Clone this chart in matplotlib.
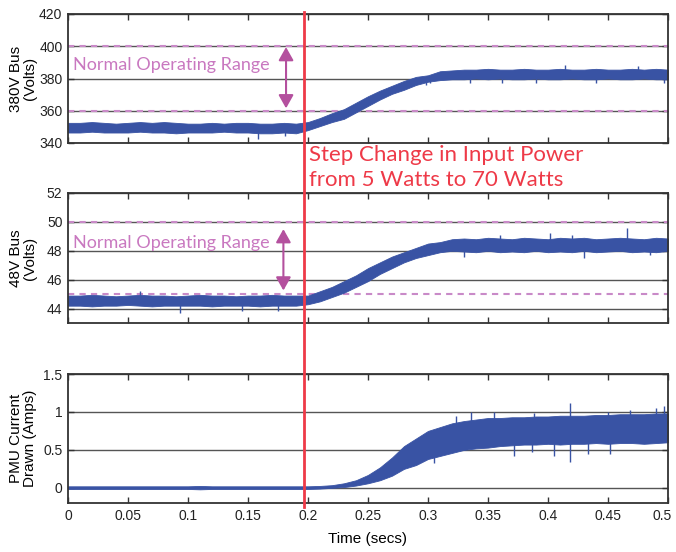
import numpy as np
import matplotlib
matplotlib.use("Agg")
import matplotlib.pyplot as plt
from matplotlib.lines import Line2D
from matplotlib import transforms

# ---------------- data ----------------
time = [0.00, 0.01, 0.02, 0.03, 0.04, 0.05, 0.06, 0.07, 0.08, 0.09,
        0.10, 0.11, 0.12, 0.13, 0.14, 0.15, 0.16, 0.17, 0.18, 0.19,
        0.20, 0.21, 0.22, 0.23, 0.24, 0.25, 0.26, 0.27, 0.28, 0.29,
        0.30, 0.31, 0.32, 0.33, 0.34, 0.35, 0.36, 0.37, 0.38, 0.39,
        0.40, 0.41, 0.42, 0.43, 0.44, 0.45, 0.46, 0.47, 0.48, 0.49, 0.50]

# 380V bus envelope (Volts)
bus380_low = [346.5, 346.5, 347.0, 346.5, 346.5, 346.5, 347.0, 346.5, 346.5, 346.0,
              346.5, 346.5, 346.5, 347.0, 346.5, 346.5, 346.0, 346.0, 346.5, 346.0,
              348.0, 350.5, 353.0, 355.0, 359.0, 363.0, 367.0, 370.5, 373.0, 376.0,
              378.0, 379.0, 379.5, 379.5, 380.0, 379.5, 380.0, 379.5, 379.5, 380.0,
              379.5, 379.5, 380.0, 379.5, 379.5, 380.0, 379.5, 379.5, 380.0, 379.5, 379.5]
bus380_high = [352.5, 352.5, 353.0, 352.5, 352.0, 352.5, 353.0, 352.5, 353.0, 352.5,
               352.0, 352.0, 352.5, 352.0, 352.5, 352.5, 352.0, 352.0, 352.5, 352.0,
               353.0, 355.5, 358.5, 361.0, 365.0, 369.0, 372.5, 375.5, 378.5, 381.0,
               382.0, 384.5, 385.0, 385.5, 385.5, 386.0, 385.5, 385.5, 386.0, 385.5,
               385.5, 386.0, 385.5, 385.5, 386.0, 385.5, 385.5, 386.0, 385.5, 386.0, 385.5]
bus380_spike_t = [0.158, 0.181, 0.298, 0.302, 0.335, 0.362, 0.39, 0.414, 0.44, 0.475, 0.497]
bus380_spike_v = [342.5, 344.5, 376.0, 377.0, 377.5, 377.5, 377.0, 388.4, 377.0, 388.0, 377.5]

# 48V bus envelope (Volts)
bus48_low = [44.2, 44.2, 44.15, 44.2, 44.2, 44.25, 44.2, 44.15, 44.2, 44.2,
             44.2, 44.2, 44.15, 44.2, 44.2, 44.2, 44.15, 44.2, 44.2, 44.2,
             44.3, 44.5, 44.8, 45.1, 45.5, 45.9, 46.4, 46.8, 47.2, 47.5,
             47.7, 47.9, 48.0, 47.95, 47.9, 48.0, 47.9, 47.95, 47.9, 48.0,
             47.9, 47.95, 47.9, 48.0, 47.9, 47.95, 48.0, 47.9, 47.95, 47.9, 48.0]
bus48_high = [44.9, 44.9, 44.95, 44.9, 44.85, 44.9, 44.95, 44.9, 44.9, 44.85,
              44.9, 44.95, 44.9, 44.9, 44.85, 44.9, 44.9, 44.95, 44.9, 44.9,
              44.9, 45.2, 45.5, 45.9, 46.3, 46.8, 47.2, 47.6, 47.9, 48.2,
              48.5, 48.6, 48.8, 48.85, 48.8, 48.9, 48.85, 48.8, 48.9, 48.85,
              48.8, 48.9, 48.85, 48.9, 48.8, 48.85, 48.9, 48.85, 48.8, 48.9, 48.85]
bus48_spike_t = [0.093, 0.145, 0.175, 0.06, 0.33, 0.36, 0.402, 0.43, 0.466, 0.42, 0.485]
bus48_spike_v = [43.7, 43.85, 43.8, 45.2, 47.6, 49.1, 49.2, 47.5, 49.6, 49.1, 47.7]

# PMU current envelope (Amps)
pmu_low = [-0.015, -0.015, -0.015, -0.015, -0.015, -0.015, -0.015, -0.015, -0.015, -0.015,
           -0.015, -0.02, -0.015, -0.015, -0.015, -0.015, -0.015, -0.015, -0.015, -0.015,
           -0.015, -0.01, 0.0, 0.01, 0.03, 0.06, 0.10, 0.16, 0.25, 0.30,
           0.38, 0.42, 0.46, 0.50, 0.52, 0.53, 0.55, 0.56, 0.57, 0.57,
           0.58, 0.57, 0.58, 0.58, 0.59, 0.58, 0.59, 0.59, 0.58, 0.59, 0.60]
pmu_high = [0.02, 0.02, 0.02, 0.02, 0.02, 0.02, 0.02, 0.02, 0.02, 0.02,
            0.02, 0.025, 0.02, 0.02, 0.02, 0.02, 0.02, 0.02, 0.02, 0.02,
            0.02, 0.025, 0.035, 0.06, 0.10, 0.17, 0.27, 0.40, 0.55, 0.65,
            0.75, 0.80, 0.85, 0.88, 0.90, 0.92, 0.92, 0.93, 0.93, 0.94,
            0.94, 0.95, 0.95, 0.95, 0.96, 0.96, 0.97, 0.97, 0.97, 0.98, 0.98]
pmu_spike_t = [0.305, 0.323, 0.336, 0.355, 0.372, 0.388, 0.405, 0.418, 0.418, 0.433, 0.45, 0.468, 0.49, 0.497, 0.387, 0.452]
pmu_spike_v = [0.33, 0.95, 1.0, 1.0, 0.42, 0.98, 0.42, 1.12, 0.34, 0.45, 1.0, 1.02, 1.05, 1.08, 0.47, 0.44]

xticks = [0, 0.05, 0.1, 0.15, 0.2, 0.25, 0.3, 0.35, 0.4, 0.45, 0.5]
xtick_labels = ["0", "0.05", "0.1", "0.15", "0.2", "0.25", "0.3", "0.35", "0.4", "0.45", "0.5"]
yticks_380 = [340, 360, 380, 400, 420]
yticks_48 = [44, 46, 48, 50, 52]
yticks_pmu = [0, 0.5, 1, 1.5]
ytick_labels_pmu = ["0", "0.5", "1", "1.5"]
range_380 = [360, 400]
range_48 = [45, 50]
step_time = 0.197

# ---------------- styling ----------------
BLUE = "#3953a4"
MAG_TXT = "#c978c0"
MAG_LINE = "#c98ac8"
MAG_ARW = "#b4509e"
RED = "#ee3a48"
GRID = "#555555"

plt.rcParams['font.family'] = ['Liberation Sans', 'DejaVu Sans']

fig = plt.figure(figsize=(6.76, 5.52), dpi=100)
W, H = 676.0, 552.0
def ax_rect(top_px, bot_px):
    return [68 / W, 1 - bot_px / H, 600 / W, (bot_px - top_px) / H]

ax1 = fig.add_axes(ax_rect(14, 143))
ax2 = fig.add_axes(ax_rect(193, 323))
ax3 = fig.add_axes(ax_rect(374, 503))

def style(ax, ylim, yticks, ylabels, ylabel, show_x):
    ax.set_xlim(0, 0.5)
    ax.set_ylim(*ylim)
    ax.set_xticks(xticks)
    ax.set_yticks(yticks)
    ax.set_yticklabels(ylabels, fontsize=10)
    if show_x:
        ax.set_xticklabels(xtick_labels, fontsize=10)
    else:
        ax.set_xticklabels([])
    ax.tick_params(direction='in', top=True, right=True, length=4, width=1, colors='#333333',
                   labelcolor='#222222', pad=4)
    for v in yticks:
        ax.axhline(v, color=GRID, lw=1.0, zorder=1)
    for s in ax.spines.values():
        s.set_color('#333333')
        s.set_linewidth(1.3)
        s.set_zorder(5)
    ax.set_ylabel(ylabel, fontsize=11, linespacing=1.0)

style(ax1, (340, 420), yticks_380, [str(v) for v in yticks_380], "380V Bus\n(Volts)", False)
style(ax2, (43.0, 52), yticks_48, [str(v) for v in yticks_48], "48V Bus\n(Volts)", False)
style(ax3, (-0.2, 1.5), yticks_pmu, ytick_labels_pmu, "PMU Current\nDrawn (Amps)", True)
for ax in (ax1, ax2, ax3):
    ax.yaxis.set_label_coords(-0.051, 0.5)
# keep the last x tick label inside the canvas (shift it a few pixels left)
last_tick = ax3.xaxis.get_major_ticks()[-1]
last_tick.label1.set_transform(last_tick.label1.get_transform() +
                               transforms.ScaledTranslation(-4 / 72, 0, fig.dpi_scale_trans))

def draw_signal(ax, low, high, st, sv):
    ax.fill_between(time, low, high, color=BLUE, lw=0.6, edgecolor=BLUE, zorder=3)
    lo = np.interp(st, time, low)
    hi = np.interp(st, time, high)
    base = [(a + b) / 2 for a, b in zip(lo, hi)]
    ax.vlines(st, base, sv, color=BLUE, lw=1.0, zorder=3)

draw_signal(ax1, bus380_low, bus380_high, bus380_spike_t, bus380_spike_v)
draw_signal(ax2, bus48_low, bus48_high, bus48_spike_t, bus48_spike_v)
draw_signal(ax3, pmu_low, pmu_high, pmu_spike_t, pmu_spike_v)

for v in range_380:
    ax1.axhline(v, color=MAG_LINE, lw=1.5, ls=(0, (3, 2.5)), zorder=2)
for v in range_48:
    ax2.axhline(v, color=MAG_LINE, lw=1.5, ls=(0, (3, 2.5)), zorder=2)

# Normal operating range annotations
ax1.text(0.004, 388.5, "Normal Operating Range", color=MAG_TXT, fontsize=13,
         family=['Lato', 'DejaVu Sans'], va='center', ha='left', zorder=4)
ax2.text(0.004, 48.55, "Normal Operating Range", color=MAG_TXT, fontsize=13,
         family=['Lato', 'DejaVu Sans'], va='center', ha='left', zorder=4)
arrowprops = dict(arrowstyle='<|-|>,head_length=0.8,head_width=0.45', color=MAG_ARW, lw=1.5,
                  shrinkA=0, shrinkB=0)
ax1.annotate("", xy=(0.1817, 399.5), xytext=(0.1817, 361.5), arrowprops=arrowprops, zorder=4)
ax2.annotate("", xy=(0.1795, 49.5), xytext=(0.1795, 45.25), arrowprops=arrowprops, zorder=4)

# Red step-change line across all panels
trans = transforms.blended_transform_factory(ax3.transData, fig.transFigure)
fig.add_artist(Line2D([step_time, step_time], [1 - 12 / H, 1 - 507 / H], transform=trans,
                      color=RED, lw=2.0, zorder=10))
fig.text(309 / W, 1 - 145 / H, "Step Change in Input Power\nfrom 5 Watts to 70 Watts",
         color=RED, fontsize=16, family=['Lato', 'DejaVu Sans'], va='top', ha='left',
         linespacing=1.3)

ax3.set_xlabel("Time (secs)", fontsize=11, labelpad=7)

fig.savefig("out.png", dpi=100)
